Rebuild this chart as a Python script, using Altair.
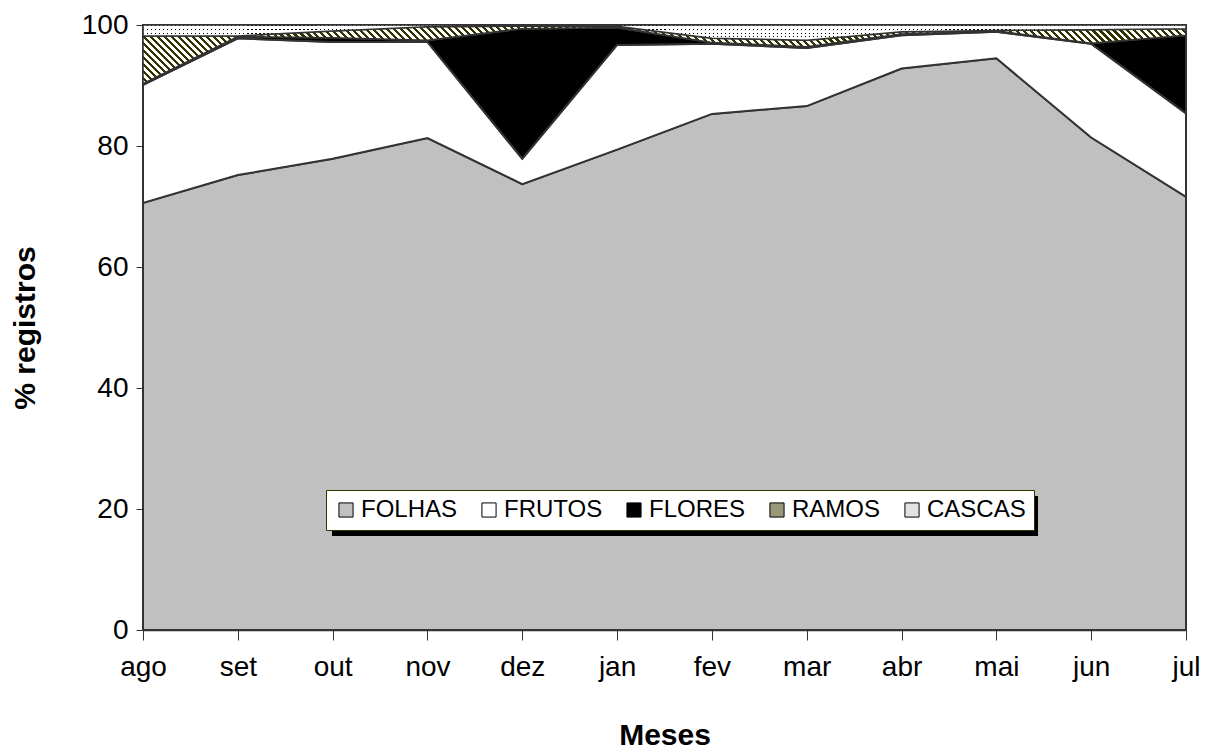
import altair as alt
import pandas as pd

months = ["ago", "set", "out", "nov", "dez", "jan", "fev", "mar", "abr", "mai", "jun", "jul"]
series = ["FOLHAS", "FRUTOS", "FLORES", "RAMOS", "CASCAS"]
folhas = [70.6, 75.2, 77.9, 81.3, 73.7, 79.4, 85.3, 86.6, 92.8, 94.5, 81.4, 71.6]
frutos = [19.5, 22.6, 19.3, 15.9, 4.2, 17.3, 11.6, 9.6, 5.5, 4.4, 15.5, 13.8]
flores = [0.2, 0.3, 0.7, 0.3, 21.5, 2.9, 0.2, 0.2, 0.2, 0.1, 0.1, 12.9]
ramos = [7.9, 0.1, 1.1, 2.2, 0.4, 0.2, 0.7, 1.1, 0.4, 0.1, 2.2, 1.1]
cascas = [1.8, 1.8, 1.0, 0.3, 0.2, 0.2, 2.2, 2.5, 1.1, 0.9, 0.8, 0.6]
y_ticks = [0, 20, 40, 60, 80, 100]

W, H = 1043, 605
FONT = "Liberation Sans"

# build stacked table
values = {"FOLHAS": folhas, "FRUTOS": frutos, "FLORES": flores, "RAMOS": ramos, "CASCAS": cascas}
rows = []
base = [0.0] * len(months)
for s in series:
    for i, m in enumerate(months):
        y0 = base[i]
        y1 = y0 + values[s][i]
        rows.append({"mes": m, "serie": s, "y0": y0, "y1": y1, "order": series.index(s)})
        base[i] = y1
df = pd.DataFrame(rows)


def bbox_h(s):
    sub = df[df.serie == s]
    return (sub.y1.max() - sub.y0.min()) / 100.0 * H


def stripes(c1, c2, n_periods, frac):
    stops = []
    for k in range(n_periods):
        o = k / n_periods
        o2 = (k + frac) / n_periods
        o3 = (k + 1) / n_periods
        stops += [{"offset": o, "color": c1}, {"offset": o2, "color": c1},
                  {"offset": o2, "color": c2}, {"offset": o3, "color": c2}]
    return stops


# diagonal hatch for RAMOS
hr = bbox_h("RAMOS")
L = 1.1
period_px = 7.0
p = period_px / (W * L * (1 + (hr / W) ** 2))
n_h = int(1 / p) + 1
c = 0.5
hatch = {
    "gradient": "linear",
    "x1": -0.05, "y1": c + 0.05 * hr / W,
    "x2": 1.05, "y2": c - 1.05 * hr / W,
    "stops": stripes("#333300", "#ffffff", n_h, 0.45),
}

# dotted for CASCAS: vertical stripes + horizontal mask
hc = bbox_h("CASCAS")
vstripes = {
    "gradient": "linear", "x1": 0, "y1": 0, "x2": 1, "y2": 0,
    "stops": stripes("#000000", "#ffffff", int(W / 4), 0.3),
}
n_rows = max(1, int(round(hc / 4)))
hmask = {
    "gradient": "linear", "x1": 0, "y1": 0, "x2": 0, "y2": 1,
    "stops": stripes("rgba(255,255,255,0)", "#ffffff", n_rows, 0.3),
}

x_enc = alt.X("mes:O", sort=months, scale=alt.Scale(type="point", padding=0),
              axis=alt.Axis(title="Meses", labelAngle=0, labelFontSize=28, labelFont=FONT,
                            titleFontSize=30, titleFont=FONT, titleFontWeight="bold",
                            tickSize=10, labelPadding=13, titlePadding=39,
                            domainColor="#333", tickColor="#333", domainWidth=1.5,
                            labelColor="#000", titleColor="#000"))
y_enc = alt.Y("y1:Q", stack=None, scale=alt.Scale(domain=[0, 100], nice=False),
              axis=alt.Axis(title="% registros", values=y_ticks, grid=False, labelFontSize=28,
                            labelFont=FONT, titleFontSize=30, titleFont=FONT,
                            titleFontWeight="bold", tickSize=7, labelPadding=8,
                            titlePadding=41, domainColor="#333", tickColor="#333",
                            domainWidth=1.5, labelColor="#000", titleColor="#000"))

legend_colors = ["#c0c0c0", "#ffffff", "#000000", "#99997a", "#e2e2e2"]

areas = alt.Chart(df).mark_area(stroke="#333333", strokeWidth=2, opacity=1).encode(
    x=x_enc, y=y_enc, y2="y0:Q",
    color=alt.Color("serie:N", sort=series,
                    scale=alt.Scale(domain=series, range=legend_colors),
                    legend=alt.Legend(orient="none", legendX=183, legendY=465,
                                      direction="horizontal", title=None,
                                      fillColor="#ffffff", strokeColor="#333300",
                                      padding=8, symbolType="square", symbolSize=200,
                                      symbolStrokeColor="#000000", symbolStrokeWidth=1,
                                      labelFontSize=24, labelFont=FONT, labelColor="#000",
                                      columnPadding=19, labelOffset=3)),
    order=alt.Order("order:Q"),
)

ramos_layer = alt.Chart(df).transform_filter(alt.datum.serie == "RAMOS").mark_area(
    fill=hatch, stroke="#333333", strokeWidth=1.5).encode(x=x_enc, y=y_enc, y2="y0:Q")

cascas_a = alt.Chart(df).transform_filter(alt.datum.serie == "CASCAS").mark_area(
    fill=vstripes, strokeWidth=0).encode(x=x_enc, y=y_enc, y2="y0:Q")
cascas_b = alt.Chart(df).transform_filter(alt.datum.serie == "CASCAS").mark_area(
    fill=hmask, stroke="#333333", strokeWidth=1.5).encode(x=x_enc, y=y_enc, y2="y0:Q")

shadow = alt.Chart(df).mark_rect(color="#000000").encode(
    x=alt.value(189), x2=alt.value(895), y=alt.value(471), y2=alt.value(511))

chart = alt.layer(areas, ramos_layer, cascas_a, cascas_b, shadow).properties(
    width=W, height=H,
    autosize=alt.AutoSizeParams(type="none"),
    padding={"left": 135, "top": 17, "right": 18, "bottom": 120},
).configure_view(stroke=None).configure(background="white")

chart.save("out.html", embed_options={"renderer": "svg", "actions": False})
